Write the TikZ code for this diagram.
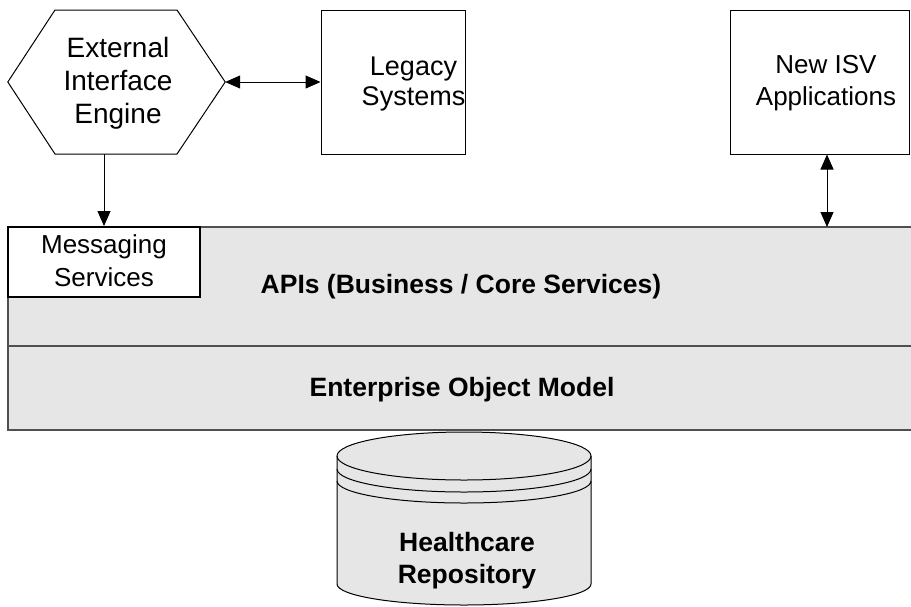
\documentclass[tikz,border=0pt]{standalone}
\usepackage{fontspec}
\setmainfont{Liberation Sans}
\usetikzlibrary{arrows.meta,calc}
\definecolor{bandfill}{RGB}{230,230,230}
\definecolor{bandline}{RGB}{80,80,80}
\begin{document}
\begin{tikzpicture}[x=1pt,y=-1pt,
  lbl/.style={font=\fontsize{26.5}{32}\selectfont, align=center},
  blbl/.style={font=\fontsize{26.5}{32}\selectfont\bfseries, align=center},
  plainbox/.style={draw=black, line width=1pt, fill=white, inner sep=0pt},
  link/.style={draw=black, line width=1pt, {Triangle[length=15pt,width=13pt]}-{Triangle[length=15pt,width=13pt]}},
  onelink/.style={draw=black, line width=1pt, -{Triangle[length=15pt,width=13pt]}}]
\useasboundingbox (0,0) rectangle (911,606);

% layered service band (runs off the right edge)
\fill[bandfill] (8,227) rectangle (930,430);
\draw[bandline, line width=1.5pt] (930,227) -- (8,227) -- (8,430) -- (930,430);
\draw[bandline, line width=1.5pt] (8,346) -- (930,346);
\node[blbl] (api) at (461,287) {APIs (Business / Core Services)};
\node[blbl] (eom) at (462,389.5) {Enterprise Object Model};
\coordinate (apitop) at (827,227);

% messaging box on the band
\node[plainbox, line width=2pt, minimum width=192pt, minimum height=70pt] (msg) at (104,262) {};
\node[lbl, font=\fontsize{26}{33}\selectfont] at (104,261) {Messaging\\Services};

% external interface engine (hexagon)
\node[inner sep=0pt, minimum width=217pt, minimum height=144pt] (eie) at (116.5,82) {};
\draw[black, line width=1pt, fill=white]
  (eie.west) -- (55,10) -- (177,10) -- (eie.east) -- (177,154) -- (55,154) -- cycle;
\node[lbl, font=\fontsize{28}{33}\selectfont] at (118,83) {External\\Interface\\Engine};

% legacy systems
\node[plainbox, minimum width=144pt, minimum height=144pt] (legacy) at (393,82) {};
\node[lbl, font=\fontsize{27}{30}\selectfont] at (413.5,84) {Legacy\\Systems};

% new ISV applications
\node[plainbox, minimum width=179.5pt, minimum height=144pt] (isv) at (819.75,82) {};
\node[lbl, font=\fontsize{26}{32}\selectfont] at (826,83) {New ISV\\Applications};

% connectors
\draw[link] (eie.east) -- (legacy.west);
\draw[onelink] (eie.south -| msg.north) -- (msg.north);
\draw[link] (isv.south -| apitop) -- (apitop);

% healthcare repository (cylinder)
\def\cx{464}\def\rx{127}\def\ry{24}
\draw[black, line width=1pt, fill=bandfill]
  (\cx-\rx,456) -- (\cx-\rx,584) arc[start angle=180, end angle=360, x radius=\rx, y radius=-21]
  -- (\cx+\rx,456) arc[start angle=0, end angle=180, x radius=\rx, y radius=-\ry] -- cycle;
\draw[black, line width=1pt] (\cx-\rx,456) arc[start angle=180, end angle=360, x radius=\rx, y radius=-\ry];
\draw[black, line width=1pt] (\cx-\rx,469) arc[start angle=180, end angle=360, x radius=\rx, y radius=-23];
\draw[black, line width=1pt] (\cx-\rx,481) arc[start angle=180, end angle=360, x radius=\rx, y radius=-22];
\node[blbl] (repo) at (467,561) {Healthcare\\Repository};
\end{tikzpicture}
\end{document}
